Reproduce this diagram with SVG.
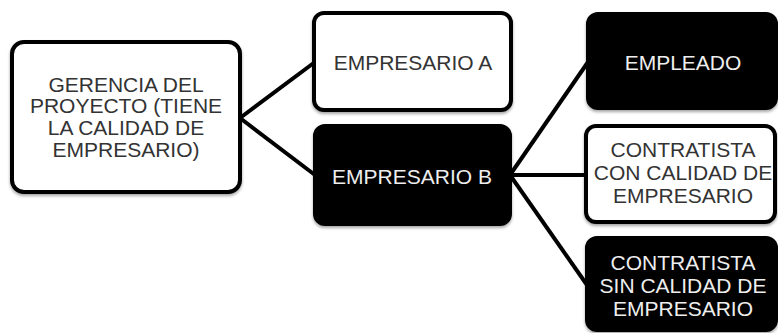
<svg xmlns="http://www.w3.org/2000/svg" width="778" height="333" viewBox="0 0 778 333">
<defs>
<filter id="sh" x="-10%" y="-10%" width="120%" height="130%"><feDropShadow dx="0" dy="2" stdDeviation="1.5" flood-color="#000" flood-opacity="0.35"/></filter>
<style>
.w{fill:#fff;stroke:#000;stroke-width:4}
.b{fill:#000;stroke:#000;stroke-width:4}
.tw{font-family:"Liberation Sans",Arial,sans-serif;font-size:21px;fill:#333;text-anchor:middle}
.tb{font-family:"Liberation Sans",Arial,sans-serif;font-size:21px;fill:#eee;text-anchor:middle}
.c{stroke:#000;stroke-width:4;fill:none}
</style>
</defs>
<rect width="778" height="333" fill="#fff"/>
<g id="connectors">
<line class="c" x1="240" y1="118" x2="315" y2="62"/>
<line class="c" x1="240" y1="118" x2="315" y2="175"/>
<line class="c" x1="510" y1="175" x2="588" y2="62"/>
<line class="c" x1="510" y1="175" x2="587" y2="175"/>
<line class="c" x1="510" y1="175" x2="587" y2="285"/>
</g>
<g id="gerencia">
<rect class="w" x="12" y="42" width="228" height="150" rx="12" filter="url(#sh)"/>
<text class="tw" x="126" y="92">GERENCIA DEL</text>
<text class="tw" x="126" y="113">PROYECTO (TIENE</text>
<text class="tw" x="126" y="135">LA CALIDAD DE</text>
<text class="tw" x="126" y="157">EMPRESARIO)</text>
</g>
<g id="empresarioA">
<rect class="w" x="314" y="13" width="197" height="97" rx="10" filter="url(#sh)"/>
<text class="tw" x="413" y="70">EMPRESARIO A</text>
</g>
<g id="empresarioB">
<rect class="b" x="315" y="126" width="195" height="98" rx="10" filter="url(#sh)"/>
<text class="tb" x="412" y="184">EMPRESARIO B</text>
</g>
<g id="empleado">
<rect class="b" x="588" y="14" width="188" height="94" rx="10" filter="url(#sh)"/>
<text class="tb" x="683" y="70">EMPLEADO</text>
</g>
<g id="contratistaCon">
<rect class="w" x="586" y="126" width="189" height="96" rx="10" filter="url(#sh)"/>
<text class="tw" x="683" y="157">CONTRATISTA</text>
<text class="tw" x="683" y="180">CON CALIDAD DE</text>
<text class="tw" x="683" y="203">EMPRESARIO</text>
</g>
<g id="contratistaSin">
<rect class="b" x="587" y="238" width="189" height="92" rx="10" filter="url(#sh)"/>
<text class="tb" x="683" y="270">CONTRATISTA</text>
<text class="tb" x="683" y="293">SIN CALIDAD DE</text>
<text class="tb" x="683" y="316">EMPRESARIO</text>
</g>
</svg>
